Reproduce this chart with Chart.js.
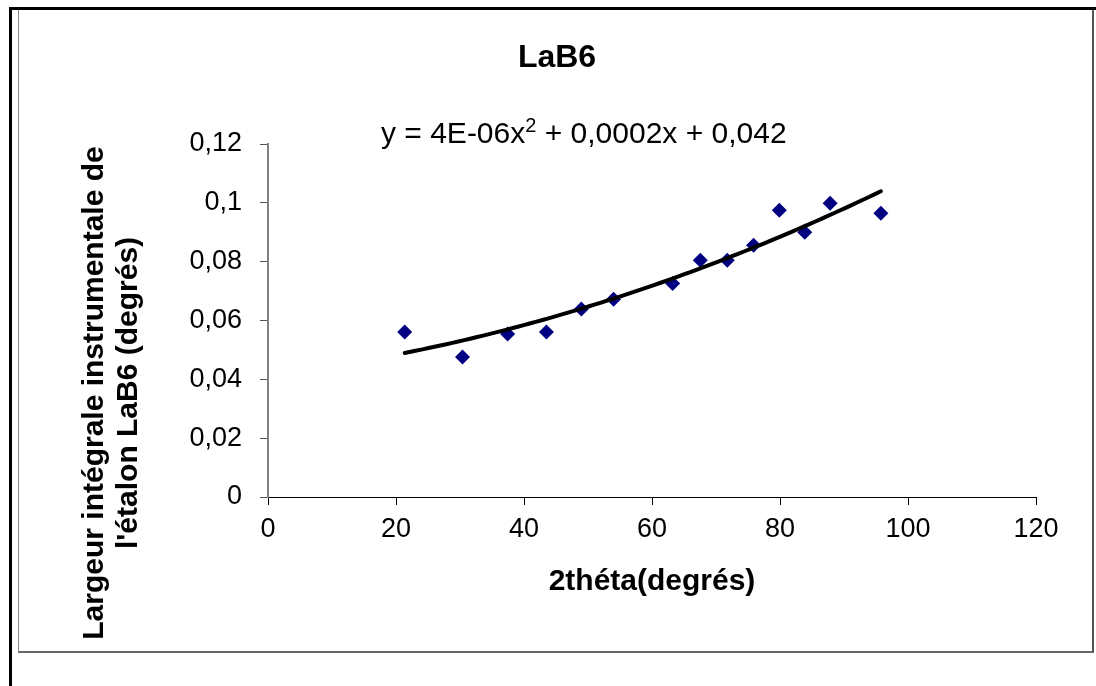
<!DOCTYPE html>
<html>
<head>
<meta charset="utf-8">
<script src="https://cdn.jsdelivr.net/npm/chart.js@4"></script>
<style>
  html, body { margin: 0; padding: 0; background: #fff; }
  body { width: 1096px; height: 686px; position: relative; overflow: hidden; }
  #outerLeft { position: absolute; left: 9px; top: 8px; width: 3px; height: 678px; background: #000; }
  #outerTop { position: absolute; left: 9px; top: 7px; width: 1087px; height: 3px; background: #000; }
  #frame { position: absolute; left: 18px; top: 9px; width: 1073px; height: 641px;
           border-left: 1px solid #8a8a8a; border-top: 1px solid #8a8a8a;
           border-right: 2px solid #555; border-bottom: 2px solid #666; }
  #wrap { position: absolute; left: 0; top: 0; width: 1096px; height: 686px; }
</style>
</head>
<body>
<div id="frame"></div>
<div id="outerLeft"></div>
<div id="outerTop"></div>
<div id="wrap"><canvas id="lab6Chart" width="1096" height="686"></canvas></div>
<script>
// 2theta positions of the LaB6 peaks (degrees)
const twoTheta = [21.36, 30.39, 37.44, 43.51, 48.96, 53.99, 63.22, 67.55, 71.76, 75.87, 79.89, 83.87, 87.83, 95.76];
// integral breadth (degrees)
const largeur = [0.0561, 0.0476, 0.0554, 0.0561, 0.0639, 0.0672, 0.0726, 0.0805, 0.0805, 0.0856, 0.0975, 0.0900, 0.0999, 0.0965];

const xTicks = [0, 20, 40, 60, 80, 100, 120];
const yTicks = [0, 0.02, 0.04, 0.06, 0.08, 0.1, 0.12];

const titleText = 'LaB6';
const equationParts = ['y = 4E-06x', '2', ' + 0,0002x + 0,042'];
const xTitle = '2théta(degrés)';
const yTitle = ['Largeur intégrale instrumentale de', "l'étalon LaB6 (degrés)"];

const FONT = "'Liberation Sans', Arial, sans-serif";

// least squares 2nd order polynomial, like the Excel trendline
function polyFit2(xs, ys) {
    let n = xs.length, sx = 0, sx2 = 0, sx3 = 0, sx4 = 0, sy = 0, sxy = 0, sx2y = 0;
    for (let i = 0; i < n; i++) {
        const x = xs[i], y = ys[i];
        sx += x; sx2 += x * x; sx3 += x * x * x; sx4 += x * x * x * x;
        sy += y; sxy += x * y; sx2y += x * x * y;
    }
    // solve [[sx4,sx3,sx2],[sx3,sx2,sx],[sx2,sx,n]] * [a,b,c] = [sx2y,sxy,sy]
    const m = [[sx4, sx3, sx2, sx2y], [sx3, sx2, sx, sxy], [sx2, sx, n, sy]];
    for (let i = 0; i < 3; i++) {
        for (let k = i + 1; k < 3; k++) {
            const f = m[k][i] / m[i][i];
            for (let j = i; j < 4; j++) m[k][j] -= f * m[i][j];
        }
    }
    const r = [0, 0, 0];
    for (let i = 2; i >= 0; i--) {
        let s = m[i][3];
        for (let j = i + 1; j < 3; j++) s -= m[i][j] * r[j];
        r[i] = s / m[i][i];
    }
    return r;
}

const [ca, cb, cc] = polyFit2(twoTheta, largeur);
const xMin = Math.min(...twoTheta), xMax = Math.max(...twoTheta);
const trend = [];
for (let i = 0; i <= 80; i++) {
    const x = xMin + (xMax - xMin) * i / 80;
    trend.push({ x: x, y: ca * x * x + cb * x + cc });
}

const fmt = v => parseFloat(v.toFixed(4)).toString().replace('.', ',');

// texts that Excel places freely: chart title, trendline label, y axis title
const textPlugin = {
    id: 'excelTexts',
    afterDraw(chart) {
        const ctx = chart.ctx;
        ctx.save();
        ctx.fillStyle = '#000';

        ctx.font = 'bold 32px ' + FONT;
        ctx.textAlign = 'center';
        ctx.textBaseline = 'middle';
        ctx.fillText(titleText, 557, 58);

        // equation with superscript
        ctx.textAlign = 'left';
        ctx.textBaseline = 'alphabetic';
        let x = 381;
        const base = 143;
        ctx.font = '30px ' + FONT;
        ctx.fillText(equationParts[0], x, base);
        x += ctx.measureText(equationParts[0]).width;
        ctx.font = '20px ' + FONT;
        ctx.fillText(equationParts[1], x, base - 11);
        x += ctx.measureText(equationParts[1]).width;
        ctx.font = '30px ' + FONT;
        ctx.fillText(equationParts[2], x, base);

        // rotated y title, two lines
        ctx.font = 'bold 30px ' + FONT;
        ctx.textAlign = 'center';
        ctx.textBaseline = 'middle';
        ctx.translate(112, 393);
        ctx.rotate(-Math.PI / 2);
        ctx.fillText(yTitle[0], 0, -17);
        ctx.fillText(yTitle[1], 0, 17);
        ctx.restore();
    }
};

const ctx = document.getElementById('lab6Chart').getContext('2d');

new Chart(ctx, {
    type: 'scatter',
    data: {
        datasets: [
            {
                label: 'trend',
                data: trend,
                showLine: true,
                borderColor: '#000',
                borderWidth: 4,
                borderCapStyle: 'round',
                pointRadius: 0,
                fill: false,
            },
            {
                label: 'LaB6',
                data: twoTheta.map((x, i) => ({ x: x, y: largeur[i] })),
                pointStyle: 'rectRot',
                pointRadius: 7.5,
                pointBackgroundColor: '#000080',
                pointBorderColor: '#000080',
                pointBorderWidth: 0,
            },
        ],
    },
    options: {
        responsive: false,
        animation: false,
        layout: {
            padding: { left: 0, right: 60, top: 144, bottom: 86 }
        },
        plugins: {
            legend: { display: false },
            tooltip: { enabled: false },
            title: { display: false },
        },
        scales: {
            x: {
                type: 'linear',
                min: 0,
                max: 120,
                afterBuildTicks: s => { s.ticks = xTicks.map(v => ({ value: v })); },
                afterFit: s => { s.height = 103; },
                grid: {
                    drawOnChartArea: false,
                    drawTicks: true,
                    tickLength: 8,
                    color: '#000',
                },
                border: { display: true, color: '#000', width: 1 },
                ticks: {
                    color: '#000',
                    padding: 8,
                    maxRotation: 0,
                    font: { family: FONT, size: 27 },
                },
                title: {
                    display: true,
                    text: xTitle,
                    color: '#000',
                    padding: 0,
                    font: { family: FONT, size: 30, weight: 'bold' },
                },
            },
            y: {
                type: 'linear',
                min: 0,
                max: 0.12,
                afterBuildTicks: s => { s.ticks = yTicks.map(v => ({ value: v })); },
                afterFit: s => { s.width = 268; },
                grid: {
                    drawOnChartArea: false,
                    drawTicks: true,
                    tickLength: 8,
                    color: '#555',
                },
                border: { display: true, color: '#808080', width: 2 },
                ticks: {
                    color: '#000',
                    padding: 18,
                    font: { family: FONT, size: 27 },
                    callback: v => fmt(v),
                },
            },
        },
    },
    plugins: [textPlugin],
});
</script>
</body>
</html>
